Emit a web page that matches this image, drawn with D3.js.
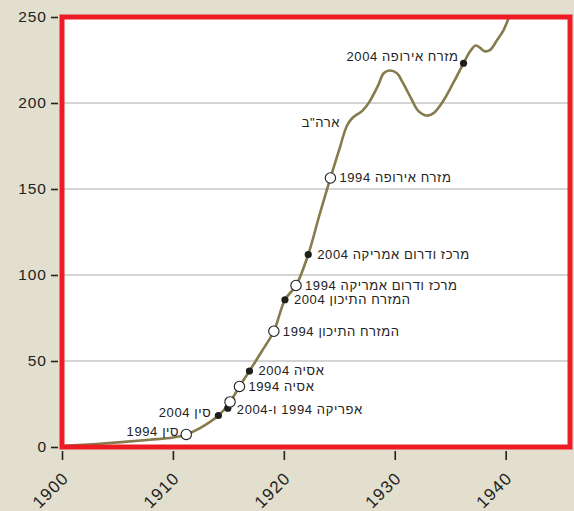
<!DOCTYPE html>
<html><head><meta charset="utf-8">
<script src="https://cdn.jsdelivr.net/npm/d3@7"></script>
<style>
html,body{margin:0;padding:0;background:#e2dfce;}
svg{display:block;font-family:"Liberation Sans",Arial,sans-serif;}
</style></head>
<body>
<svg id="c" width="574" height="511"></svg>
<script>
// ---- data ----
const curveYears  = [1900,1903.4,1907.9,1910,1911.2,1912.4,1914.1,1915.0,1916.0,1916.9,1918.0,1919.1,1920.1,1921.1,1922.2,1923.2,1924.2,1925.0,1925.7,1926.2,1927.1,1927.7,1928.5,1929.0,1929.5,1930.2,1930.7,1931.5,1932.1,1932.9,1933.5,1934.4,1935.3,1936.2,1936.8,1937.3,1937.7,1938.1,1938.6,1939.2,1939.8,1940.3,1941.0];
const curveValues = [0.6,1.9,4.2,5.5,7.3,10.8,18.3,24.7,35.2,44.2,55.5,67.3,85.6,93.9,111.9,134.6,156.4,173,186.9,191.4,195.6,200.5,210.2,217.3,218.9,217.3,212.1,202.4,195.6,192.7,194.1,201.5,212,223.1,230.1,233.4,232,230.1,230.9,236.3,242.2,249.7,258];

const markerYears  = [1911.2,1914.1,1914.95,1915.15,1916.0,1916.9,1919.1,1920.1,1921.1,1922.2,1924.2,1936.2];
const markerValues = [7.3,18.3,22.6,26.2,35.2,44.2,67.3,85.6,93.9,111.9,156.4,223.1];
const markerFilled = [false,true,true,false,false,true,false,true,false,true,false,true];

const labelTexts  = ["סין 1994","סין 2004","אפריקה 1994 ו-2004","אסיה 1994","אסיה 2004","המזרח התיכון 1994","המזרח התיכון 2004","מרכז ודרום אמריקה 1994","מרכז ודרום אמריקה 2004","מזרח אירופה 1994","ארה\"ב","מזרח אירופה 2004"];
const labelYears  = [1911.2,1914.1,1914.95,1916.0,1916.9,1919.1,1920.1,1921.1,1922.2,1924.2,1925.7,1936.2];
const labelValues = [7.3,18.3,22.6,35.2,44.2,67.3,85.6,93.9,111.9,156.4,186.9,223.1];
const labelSide   = ["left","left","right","right","right","right","right","right","right","right","left","upleft"];

const yTicks = [0,50,100,150,200,250];
const xTicks = [1900,1910,1920,1930,1940];

// ---- layout ----
const W=574,H=511;
const x = d3.scaleLinear().domain([1900,1945.8]).range([62,570]);
const y = d3.scaleLinear().domain([0,250]).range([447,17]);
const svg = d3.select("#c");

svg.append("rect").attr("width",W).attr("height",H).attr("fill","#e2dfce");
svg.append("defs").append("clipPath").attr("id","clip")
  .append("rect").attr("x",x(1900)).attr("y",y(250)).attr("width",x(1945.8)-x(1900)).attr("height",y(0)-y(250));
svg.append("rect").attr("x",x(1900)).attr("y",y(250)).attr("width",x(1945.8)-x(1900)).attr("height",y(0)-y(250)).attr("fill","#fff");

// gridlines
svg.append("g").selectAll("line").data(yTicks.filter(d=>d>0&&d<250)).join("line")
  .attr("x1",x(1900)).attr("x2",x(1945.8)).attr("y1",d=>y(d)).attr("y2",d=>y(d))
  .attr("stroke","#c6c6c6").attr("stroke-width",1.5);

// line
const pts = curveYears.map((d,i)=>[d,curveValues[i]]);
const line = d3.line().x(d=>x(d[0])).y(d=>y(d[1])).curve(d3.curveCatmullRom.alpha(0.5));
svg.append("path").attr("clip-path","url(#clip)").attr("d",line(pts))
  .attr("fill","none").attr("stroke","#857b4d").attr("stroke-width",2.6);

// frame
svg.append("rect").attr("x",x(1900)).attr("y",y(250)).attr("width",x(1945.8)-x(1900)).attr("height",y(0)-y(250))
  .attr("fill","none").attr("stroke","#ed1c24").attr("stroke-width",5);

// markers
const mk = markerYears.map((d,i)=>({yr:d,v:markerValues[i],f:markerFilled[i]}));
svg.append("g").selectAll("circle").data(mk).join("circle")
  .attr("cx",d=>x(d.yr)).attr("cy",d=>y(d.v))
  .attr("r",d=>d.f?3.6:5.2)
  .attr("fill",d=>d.f?"#1e1e1e":"#fff")
  .attr("stroke","#1e1e1e").attr("stroke-width",d=>d.f?0:1.1);

// labels
const lb = labelTexts.map((t,i)=>({t,yr:labelYears[i],v:labelValues[i],s:labelSide[i]}));
svg.append("g").selectAll("text").data(lb).join("text")
  .attr("x",d=>x(d.yr)+(d.s==="right"?9:d.s==="left"?-7:-5))
  .attr("y",d=>y(d.v)+(d.s==="right"?(d.t.startsWith("אפריקה")?1:0):d.s==="left"?-3:-7))
  .attr("text-anchor",d=>d.s==="right"?"start":"end")
  .attr("dominant-baseline","central")
  .attr("font-size",13).attr("letter-spacing",0.6).attr("fill","#222")
  .text(d=>d.t);

// axes
const ya = svg.append("g").attr("transform","translate(58,0)")
  .call(d3.axisLeft(y).tickValues(yTicks).tickSize(7).tickPadding(4));
ya.select(".domain").remove();
ya.selectAll(".tick line").attr("stroke","#222").attr("stroke-width",1.6);
ya.selectAll(".tick text").attr("font-size",15.5).attr("letter-spacing",1).attr("fill","#222").attr("font-family","Liberation Sans, Arial, sans-serif");

const xa = svg.append("g").attr("transform","translate(0,451)")
  .call(d3.axisBottom(x).tickValues(xTicks).tickFormat(d3.format("d")).tickSize(9));
xa.select(".domain").remove();
xa.selectAll(".tick line").attr("stroke","#222").attr("stroke-width",1.6);
xa.selectAll(".tick text")
  .attr("font-size",17).attr("letter-spacing",1.2).attr("fill","#222").attr("font-family","Liberation Sans, Arial, sans-serif")
  .attr("text-anchor","end").attr("x",0).attr("y",0).attr("dy","0.35em")
  .attr("transform","translate(3,24) rotate(-45)");
</script>
</body></html>
